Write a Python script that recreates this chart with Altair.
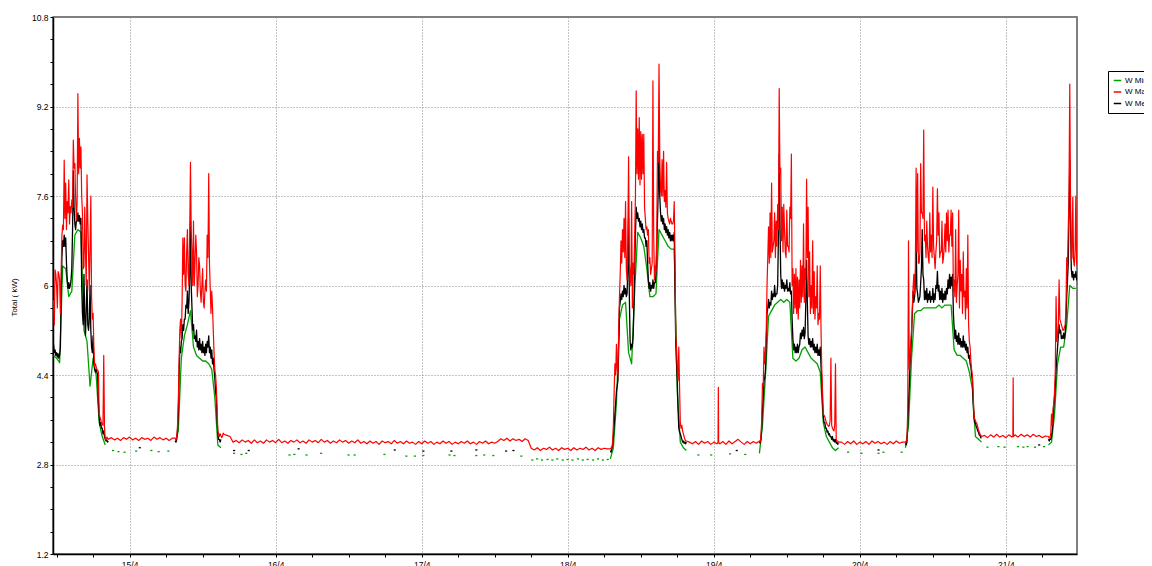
import altair as alt
import pandas as pd

# ---------------- axis / layout constants ----------------
X_MIN, X_MAX = 11.41, 179.69          # hours since 14/4 00:00
Y_MIN, Y_MAX = 1.2, 10.8
SERIES = ["W Min", "W Max", "W Med"]
COLORS = ["#00a000", "#ff0000", "#000000"]
FONT = "Liberation Sans"

# ---------------- data (hours since 14/4 00:00, kW) ----------------
# W Max, busy periods: samples every 0.25 h ...
RED_A = [5.74, 6.28, 6.0, 6.25, 6.1, 6.25, 7.08, 8.24, 7.83, 7.5, 7.89, 7.41, 7.53, 8.6, 8.18,
         7.17, 9.43, 8.63, 8.48, 7.29, 6.34, 6.6, 7.98, 6.57, 6.7, 5.8, 5.5, 4.55, 4.55, 4.49,
         3.71, 3.6, 3.53, 4.75, 3.26, 3.29, 3.25]
# ... and the readings half-way between them
RED_A_MID = [5.3, 6.2, 5.6, 6.2, 5.5, 6.9, 7.0, 7.2, 7.0, 7.3, 7.1, 7.3, 7.4, 8.1, 7.6, 7.5,
             8.0, 8.1, 7.6, 6.3, 7.4, 6.0, 7.2, 5.9, 7.6, 5.4, 4.9, 4.6, 4.5, 4.45, 3.65, 3.55,
             3.5, 3.45, 3.24, 3.27]
RED_B = [3.27, 3.3, 3.9, 5.2, 5.05, 6.85, 6.85, 5.9, 7.0, 6.0, 8.2, 6.6, 7.15, 6.4, 6.6, 6.0,
         6.35, 5.7, 6.3, 5.6, 6.1, 6.9, 8.0, 5.95, 5.9, 5.2, 4.5, 4.2, 3.4, 3.3, 3.32, 3.3, 3.34]
RED_B_MID = [3.24, 3.5, 4.6, 5.4, 5.7, 6.2, 6.0, 6.6, 6.2, 6.9, 7.0, 6.0, 6.0, 6.9, 5.8, 6.5,
             5.9, 6.0, 5.7, 5.9, 5.9, 6.5, 6.4, 5.5, 5.6, 4.8, 4.4, 3.8, 3.35, 3.35, 3.28, 3.36]
RED_C = [3.08, 3.1, 3.5, 4.6, 4.95, 4.4, 5.8, 6.8, 7.0, 7.2, 7.5, 6.1, 8.3, 6.2, 7.5, 6.4, 6.9,
         9.48, 8.8, 9.0, 8.75, 8.7, 8.7, 7.2, 7.05, 7.0, 6.5, 6.3, 9.66, 6.1, 6.25, 8.4, 9.96,
         7.7, 8.25, 8.4, 7.7, 8.2, 7.2, 7.1, 7.15, 7.1, 7.5, 5.1, 4.5, 4.9, 3.55, 3.5, 3.35,
         3.25, 3.22]
RED_C_MID = [3.1, 3.2, 4.1, 4.4, 4.5, 5.2, 6.2, 6.4, 6.6, 6.5, 6.3, 6.9, 6.4, 6.0, 5.6, 6.2,
             7.6, 8.0, 7.9, 7.8, 7.9, 8.0, 7.4, 7.0, 6.9, 6.4, 6.2, 6.4, 6.9, 6.35, 6.9, 8.2,
             8.3, 7.6, 7.6, 7.5, 7.4, 7.3, 7.15, 7.2, 7.1, 7.15, 6.5, 4.9, 4.3, 4.2, 3.45, 3.4,
             3.3, 3.22]
RED_D = [3.22, 3.3, 4.25, 4.9, 4.8, 6.0, 7.05, 7.3, 7.83, 6.7, 7.3, 7.15, 7.45, 9.52, 8.1, 7.4,
         7.45, 6.6, 7.35, 6.7, 7.4, 8.35, 6.3, 6.2, 6.3, 6.15, 6.1, 6.45, 6.35, 7.1, 6.3, 7.9,
         7.4, 6.6, 6.0, 6.8, 6.25, 5.8, 6.35, 5.5, 6.35, 4.5, 3.7, 3.65, 3.55, 3.5, 3.5, 4.7,
         3.45, 3.4, 4.6, 3.22, 3.2]
RED_D_MID = [3.2, 3.6, 4.2, 4.6, 5.2, 6.5, 6.4, 6.5, 6.6, 6.8, 6.5, 6.7, 7.0, 8.0, 6.8, 6.6,
             7.0, 6.5, 6.7, 6.6, 7.2, 6.0, 5.5, 5.6, 5.5, 5.4, 5.6, 5.7, 5.8, 5.7, 6.1, 6.5,
             5.8, 5.5, 5.6, 5.5, 5.4, 5.6, 5.3, 5.4, 5.2, 4.1, 3.68, 3.6, 3.52, 3.48, 3.6, 3.5,
             3.42, 3.5, 3.24, 3.22]
RED_E = [3.2, 3.25, 6.8, 4.7, 5.2, 5.95, 5.85, 8.1, 8.0, 6.4, 8.18, 7.3, 8.78, 6.9, 7.15, 6.5,
         7.3, 6.9, 7.76, 6.5, 6.6, 7.73, 7.3, 6.6, 7.15, 6.5, 7.1, 7.3, 7.35, 6.9, 7.35, 7.3,
         6.1, 7.0, 6.0, 7.35, 6.45, 6.2, 6.6, 5.9, 6.3, 6.9, 5.0, 4.65, 4.4, 3.7, 3.58, 3.53,
         3.42, 3.35, 3.3]
RED_E_MID = [3.22, 3.8, 4.5, 5.0, 5.6, 6.2, 6.3, 6.6, 6.4, 6.6, 7.3, 7.2, 6.8, 6.5, 6.7, 6.4,
             6.6, 6.5, 6.7, 6.3, 6.8, 6.9, 6.5, 6.6, 6.4, 6.7, 6.6, 6.8, 6.6, 6.9, 6.7, 5.9,
             5.8, 5.7, 6.2, 5.6, 5.9, 5.5, 5.8, 5.4, 5.6, 5.3, 4.9, 4.5, 4.1, 3.62, 3.55, 3.47,
             3.38, 3.32]
RED_F = [3.3, 3.28, 3.7, 3.8, 4.1, 5.8, 5.1, 6.1, 5.35, 5.25, 5.2, 5.3, 6.5, 7.0, 9.6, 6.45,
         7.58, 6.35, 7.6, 6.35]
RED_F_MID = [3.27, 3.35, 3.5, 3.9, 4.5, 5.0, 5.3, 5.4, 5.3, 5.2, 5.25, 5.6, 6.3, 7.6, 7.6, 6.5,
             6.45, 6.6, 6.4]
# W Max, quiet periods: samples every 0.5 h
RED_FLAT1 = [3.28, 3.24, 3.27, 3.23, 3.28, 3.25, 3.29, 3.24, 3.27, 3.23, 3.28, 3.25, 3.27, 3.23,
             3.29, 3.25, 3.28, 3.24, 3.27, 3.23, 3.27]
RED_FLAT2 = [3.32, 3.3, 3.2, 3.23, 3.19, 3.24, 3.2, 3.23, 3.18, 3.24, 3.19, 3.22, 3.18, 3.24,
             3.2, 3.23, 3.19, 3.25, 3.19, 3.22, 3.18, 3.23, 3.2, 3.24, 3.19, 3.22, 3.18, 3.24,
             3.2, 3.23, 3.19, 3.25, 3.2, 3.23, 3.18, 3.22, 3.19, 3.24, 3.2, 3.23, 3.18, 3.22,
             3.19, 3.24,
             3.18, 3.21, 3.17, 3.22, 3.18, 3.21, 3.16, 3.22, 3.19, 3.21, 3.17, 3.23, 3.18, 3.21,
             3.17, 3.22, 3.18, 3.2, 3.16, 3.21, 3.17, 3.22, 3.18, 3.21, 3.16, 3.2, 3.17, 3.22,
             3.18, 3.21, 3.16, 3.2, 3.17, 3.21, 3.18, 3.22, 3.17, 3.2, 3.16, 3.21, 3.18, 3.22,
             3.17, 3.2, 3.18, 3.21,
             3.26, 3.23, 3.27, 3.22, 3.26, 3.23, 3.25, 3.21, 3.26, 3.23,
             3.09, 3.06, 3.1, 3.05, 3.09, 3.07, 3.11, 3.06, 3.09, 3.05, 3.1, 3.07, 3.09, 3.05,
             3.1, 3.06, 3.09, 3.07, 3.11, 3.06, 3.09, 3.05, 3.1, 3.07, 3.09, 3.08]
RED_FLAT3 = [(116, 3.2), (116.5, 3.17), (117, 3.21), (117.5, 3.16), (118, 3.22), (118.5, 3.18),
             (119, 3.21), (119.5, 3.16), (120, 3.2), (120.5, 3.17), (120.7, 3.19),
             (120.75, 4.18), (120.8, 3.19), (121, 3.17), (121.5, 3.21), (122, 3.16),
             (122.5, 3.22), (123, 3.17), (123.5, 3.21), (124, 3.25), (124.5, 3.2), (125, 3.16),
             (125.5, 3.21), (126, 3.17), (126.5, 3.21), (127, 3.18)]
RED_FLAT4 = [3.2, 3.16, 3.21, 3.17, 3.22, 3.16, 3.2, 3.17, 3.21, 3.16, 3.22, 3.18, 3.21, 3.17,
             3.2, 3.16, 3.21, 3.17, 3.22, 3.18, 3.2]
RED_FLAT5 = [(164.5, 3.32), (165, 3.28), (165.5, 3.33), (166, 3.29), (166.5, 3.34), (167, 3.29),
             (167.5, 3.32), (168, 3.28), (168.5, 3.33), (169, 3.29), (169.15, 3.3),
             (169.2, 4.35), (169.25, 3.3), (169.5, 3.33), (170, 3.29), (170.5, 3.34),
             (171, 3.3), (171.5, 3.33), (172, 3.29), (172.5, 3.34), (173, 3.3), (173.5, 3.32),
             (174, 3.28), (174.5, 3.31)]

# W Med, busy periods: samples every 0.25 h and the readings half-way between
BLACK_A = [4.95, 4.85, 4.8, 4.78, 4.75, 5.8, 6.8, 6.9, 6.85, 6.1, 6.05, 6.0, 6.3, 8.05, 7.1,
           7.15, 7.3, 7.25, 7.2, 5.5, 6.2, 5.1, 6.1, 5.2, 6.0, 4.9, 5.1, 4.5, 4.5, 4.4, 3.65,
           3.55, 3.45, 3.4, 3.25, 3.24, 3.22]
BLACK_A_MID = [4.8, 4.75, 4.72, 4.7, 4.9, 6.5, 6.7, 6.7, 6.4, 5.95, 5.95, 6.1, 7.0, 7.4, 7.0,
               7.15, 7.15, 7.1, 6.0, 5.3, 5.4, 5.6, 5.3, 5.4, 5.2, 4.8, 4.6, 4.45, 4.45, 3.9,
               3.5, 3.45, 3.35, 3.3, 3.22, 3.2]
BLACK_B = [3.22, 3.25, 3.7, 4.9, 5.0, 5.3, 5.4, 5.65, 5.9, 5.7, 7.15, 5.6, 5.3, 5.1, 5.2, 5.0,
           5.05, 4.95, 5.0, 4.9, 4.95, 5.0, 5.1, 4.9, 4.85, 4.7, 4.35, 4.0, 3.35, 3.25, 3.25]
BLACK_B_MID = [3.2, 3.4, 4.4, 4.8, 5.05, 5.2, 5.4, 5.6, 5.5, 6.2, 6.0, 5.2, 5.05, 5.0, 4.9,
               4.85, 4.85, 4.8, 4.8, 4.75, 4.8, 4.9, 4.8, 4.7, 4.6, 4.5, 4.1, 3.6, 3.25, 3.2]
BLACK_C = [3.05, 3.08, 3.3, 3.7, 4.1, 4.3, 5.6, 5.85, 5.9, 6.0, 5.95, 5.85, 7.2, 5.0, 4.95, 5.1,
           6.3, 7.4, 7.3, 7.2, 7.15, 7.1, 7.0, 6.85, 6.8, 6.1, 6.05, 6.0, 6.1, 6.05, 6.2, 7.2,
           8.65, 7.3, 7.25, 7.2, 7.1, 7.05, 7.0, 6.95, 6.9, 6.9, 6.95, 5.0, 4.3, 3.45, 3.35,
           3.25, 3.22, 3.2, 3.2]
BLACK_C_MID = [3.02, 3.15, 3.5, 3.9, 4.2, 4.9, 5.7, 5.75, 5.8, 5.85, 5.8, 6.3, 5.8, 4.85, 4.9,
               5.6, 6.9, 7.2, 7.15, 7.05, 7.0, 6.95, 6.85, 6.7, 6.4, 5.95, 5.9, 5.95, 5.95,
               6.05, 6.6, 7.7, 7.6, 7.15, 7.1, 7.0, 6.95, 6.9, 6.85, 6.8, 6.8, 6.8, 5.9, 4.6,
               3.8, 3.38, 3.3, 3.2, 3.18, 3.17]
BLACK_D = [3.2, 3.25, 3.8, 4.3, 4.5, 5.5, 5.75, 5.7, 5.9, 5.85, 6.0, 5.85, 6.0, 8.35, 6.2, 6.1,
           6.05, 6.0, 6.1, 5.95, 6.05, 5.9, 5.05, 4.95, 4.9, 4.95, 4.9, 5.15, 5.2, 5.25, 5.15,
           6.45, 5.1, 5.05, 5.0, 5.05, 4.95, 4.9, 4.95, 4.85, 4.9, 4.3, 3.65, 3.55, 3.45, 3.4,
           3.35, 3.3, 3.3, 3.25, 3.25, 3.2, 3.18]
BLACK_D_MID = [3.18, 3.45, 4.0, 4.35, 5.0, 5.6, 5.6, 5.65, 5.75, 5.8, 5.8, 5.85, 6.9, 7.1,
               5.95, 5.95, 5.9, 5.95, 5.9, 5.9, 5.85, 5.4, 4.85, 4.8, 4.8, 4.8, 4.95, 5.05, 5.1,
               5.05, 5.7, 5.7, 4.95, 4.9, 4.9, 4.85, 4.8, 4.8, 4.75, 4.75, 4.55, 3.9, 3.55,
               3.45, 3.38, 3.33, 3.3, 3.25, 3.22, 3.2, 3.18, 3.16]
BLACK_E = [3.18, 3.2, 3.9, 4.6, 5.1, 5.9, 5.8, 6.8, 5.85, 5.75, 6.05, 7.0, 6.1, 5.9, 5.95, 5.85,
           5.9, 5.8, 5.95, 5.85, 6.0, 6.25, 6.0, 5.9, 5.95, 5.85, 5.9, 5.95, 6.1, 6.2, 6.15,
           6.2, 5.25, 5.2, 5.1, 5.15, 5.05, 5.0, 5.1, 5.0, 4.95, 4.9, 4.75, 4.55, 4.3, 3.65,
           3.55, 3.45, 3.38, 3.32, 3.27]
BLACK_E_MID = [3.15, 3.5, 4.2, 4.8, 5.5, 5.7, 6.0, 5.95, 5.7, 5.8, 6.3, 6.2, 5.75, 5.75, 5.7,
               5.75, 5.7, 5.75, 5.7, 5.75, 5.95, 5.9, 5.75, 5.75, 5.7, 5.75, 5.75, 5.85, 5.95,
               5.95, 6.0, 5.5, 5.05, 5.0, 4.95, 4.95, 4.9, 4.9, 4.9, 4.85, 4.8, 4.7, 4.6, 4.4,
               3.9, 3.55, 3.48, 3.4, 3.33, 3.28]
BLACK_F = [3.25, 3.25, 3.3, 3.6, 4.0, 4.5, 4.9, 5.3, 5.2, 5.1, 5.15, 5.15, 5.8, 6.4, 8.25, 6.3,
           6.25, 6.2, 6.25, 6.15]
BLACK_F_MID = [3.22, 3.25, 3.4, 3.8, 4.2, 4.7, 5.1, 5.15, 5.05, 5.05, 5.05, 5.4, 6.1, 7.3, 7.2,
               6.15, 6.1, 6.15, 6.1]
BLACK_DIPS = [(25.5, 3.1), (41.0, 3.05), (43.4, 3.05), (51.6, 3.08), (67.4, 3.06), (72.1, 3.04),
              (76.7, 3.04), (80.8, 3.06), (85.7, 3.04), (86.9, 3.05), (123.6, 3.05),
              (146.9, 3.06), (173.3, 3.15)]

# W Min, busy periods sampled every 0.5 h
GREEN_A = [4.75, 4.7, 4.62, 6.35, 6.3, 5.8, 5.9, 6.9, 7.0, 6.95, 5.2, 5.0, 4.2, 4.7, 4.4,
           3.55, 3.3, 3.15]
GREEN_B = [3.2, 3.4, 4.7, 5.1, 5.3, 5.55, 4.9, 4.75, 4.7, 4.65, 4.65, 4.6, 4.5, 4.0, 3.15, 3.1]
GREEN_C = [2.9, 3.1, 3.9, 5.4, 5.65, 5.7, 4.8, 4.6, 5.9, 6.95, 6.85, 6.7, 6.3, 5.8, 5.8, 5.85,
           7.0, 6.9, 6.8, 6.7, 6.65, 6.65, 4.1, 3.2, 3.1, 3.05]
GREEN_D = [3.0, 3.5, 4.4, 5.45, 5.55, 5.65, 5.7, 5.75, 5.7, 5.75, 5.7, 4.7, 4.65, 4.7, 4.85,
           4.9, 4.8, 4.7, 4.65, 4.6, 4.45, 3.55, 3.3, 3.2, 3.1, 3.05, 3.1]
GREEN_E = [3.1, 3.5, 4.7, 5.5, 5.55, 5.55, 5.6, 5.6, 5.6, 5.6, 5.6, 5.65, 5.6, 5.65, 5.65,
           5.65, 4.85, 4.75, 4.75, 4.7, 4.65, 4.45, 4.15, 3.3, 3.25, 3.2]
GREEN_F = [3.15, 3.2, 3.7, 4.6, 4.9, 4.9, 5.3, 6.0, 5.95, 5.95]
GREEN_DIPS = [(21.1, 3.05), (22.0, 3.03), (23.0, 3.02), (24.9, 3.04), (27.4, 3.05), (28.6, 3.03),
              (30.2, 3.04), (41.0, 3.0), (42.2, 2.98), (43.0, 3.0), (50.1, 2.97), (50.9, 2.98),
              (52.9, 2.97), (55.3, 3.0), (59.8, 2.97), (60.8, 2.97), (65.7, 2.98), (69.3, 2.95),
              (70.7, 2.95), (72.1, 2.96), (76.4, 2.97), (77.2, 2.96), (80.8, 2.96), (82.1, 2.97),
              (83.6, 2.96), (88.2, 2.95), (90.0, 2.88), (90.8, 2.9), (91.6, 2.88), (92.5, 2.89),
              (93.3, 2.88), (94.1, 2.9), (95.0, 2.88), (95.8, 2.89), (96.6, 2.88), (97.5, 2.9),
              (98.3, 2.88), (99.1, 2.89), (100.0, 2.88), (100.8, 2.9), (101.6, 2.88),
              (102.4, 2.89), (117.3, 2.97), (119.4, 2.97), (122.5, 2.99), (125.0, 2.98),
              (141.9, 3.02), (144.1, 3.0), (146.9, 3.0), (147.7, 3.02), (150.7, 3.02),
              (164.8, 3.11), (166.6, 3.12), (167.6, 3.11), (169.8, 3.12), (170.7, 3.11),
              (171.4, 3.12), (172.6, 3.11), (174.1, 3.12)]

# first sample time (h) of each busy period
STARTS = {"A": 11.5, "B": 31.5, "C": 103.0, "D": 127.5, "E": 151.5, "F": 175.0}
DASH = 0.35


def sampled(start, step, values):
    return [(start + i * step, v) for i, v in enumerate(values)]


def busy(key, main, mid):
    return sampled(STARTS[key], 0.25, main) + sampled(STARTS[key] + 0.125, 0.25, mid)


rows = []


def add(series, seg, pts):
    for h, v in pts:
        rows.append({"h": round(h, 4), "kw": v, "series": series, "seg": seg})


red = (busy("A", RED_A, RED_A_MID) + sampled(21, 0.5, RED_FLAT1)
       + busy("B", RED_B, RED_B_MID) + sampled(40, 0.5, RED_FLAT2)
       + busy("C", RED_C, RED_C_MID) + RED_FLAT3
       + busy("D", RED_D, RED_D_MID) + sampled(141, 0.5, RED_FLAT4)
       + busy("E", RED_E, RED_E_MID) + RED_FLAT5
       + busy("F", RED_F, RED_F_MID))
add("W Max", "max", red)

black = {"A": (BLACK_A, BLACK_A_MID), "B": (BLACK_B, BLACK_B_MID), "C": (BLACK_C, BLACK_C_MID),
         "D": (BLACK_D, BLACK_D_MID), "E": (BLACK_E, BLACK_E_MID), "F": (BLACK_F, BLACK_F_MID)}
for key, (main, mid) in black.items():
    add("W Med", "med" + key, busy(key, main, mid))
for i, (h, v) in enumerate(BLACK_DIPS):
    add("W Med", "medd%d" % i, [(h, v), (h + DASH, v)])

for key, vals in zip("ABCDEF", [GREEN_A, GREEN_B, GREEN_C, GREEN_D, GREEN_E, GREEN_F]):
    add("W Min", "min" + key, sampled(STARTS[key], 0.5, vals))
for i, (h, v) in enumerate(GREEN_DIPS):
    add("W Min", "mind%d" % i, [(h, v), (h + DASH, v)])

df = pd.DataFrame(rows)

X_TICKS = list(range(12, 180, 6))
Y_TICKS = [round(1.2 + 0.4 * k, 1) for k in range(25)]
X_MAJOR = "datum.value % 24 == 0"
Y_MAJOR = "abs((datum.value - 1.2) / 1.6 - round((datum.value - 1.2) / 1.6)) < 0.01"

x_enc = alt.X(
    "h:Q",
    scale=alt.Scale(domain=[X_MIN, X_MAX], nice=False, zero=False),
    axis=alt.Axis(
        values=X_TICKS, title=None,
        labelExpr=X_MAJOR + " ? (floor(datum.value / 24) + 14) + '/4' : ''",
        labelOverlap=False, labelFont=FONT, labelFontSize=8.5, labelColor="#000",
        labelPadding=3, tickSize=3, tickColor="#000", domainColor="#000", domainWidth=1.5,
        grid=True, gridColor="#8a8a8a", gridDash=[1, 2], gridWidth=1,
        gridOpacity={"condition": {"test": X_MAJOR, "value": 1}, "value": 0},
    ),
)
y_enc = alt.Y(
    "kw:Q",
    scale=alt.Scale(domain=[Y_MIN, Y_MAX], nice=False, zero=False),
    axis=alt.Axis(
        values=Y_TICKS, title="Total ( kW)",
        labelExpr=Y_MAJOR + " ? format(datum.value, '.1~f') : ''",
        labelOverlap=False, labelFont=FONT, labelFontSize=8.5, labelColor="#000",
        labelPadding=2, tickSize=3, tickColor="#000", domainColor="#000", domainWidth=1.5,
        grid=True, gridColor="#8a8a8a", gridDash=[1, 2], gridWidth=1,
        gridOpacity={"condition": {"test": Y_MAJOR, "value": 1}, "value": 0},
        titleFont=FONT, titleFontSize=8, titleFontWeight="normal", titleColor="#000",
        titleX=-39, titleY=280, titleAlign="center", titleBaseline="middle",
    ),
)
color_enc = alt.Color(
    "series:N",
    scale=alt.Scale(domain=SERIES, range=COLORS),
    legend=alt.Legend(
        title=None, orient="none", legendX=1055, legendY=54, direction="vertical",
        symbolType="stroke", symbolStrokeWidth=1.5, symbolSize=56,
        labelFont=FONT, labelFontSize=8, labelColor="#000", labelOffset=3,
        padding=5, rowPadding=2.5, strokeColor="#000", fillColor="#fff",
    ),
)


def layer(name, width):
    return alt.Chart(df).transform_filter(alt.datum.series == name).mark_line(
        strokeWidth=width, clip=True, strokeJoin="round"
    ).encode(x=x_enc, y=y_enc, color=color_enc, detail="seg:N")


chart = alt.layer(
    layer("W Min", 1.3), layer("W Med", 1.3), layer("W Max", 1.2)
).properties(
    width=1024, height=537,
    autosize=alt.AutoSizeParams(type="none"),
    padding={"left": 45, "top": 9, "right": 67, "bottom": 12},
    background="#ffffff",
).configure_view(stroke="#555555", strokeWidth=1.5)

chart.save("out.html", embed_options={"renderer": "svg", "actions": False})
